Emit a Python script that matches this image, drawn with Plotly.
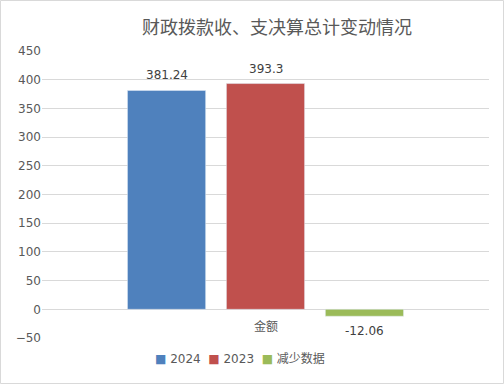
import plotly.graph_objects as go

categories = ["金额"]
series_names = ["2024", "2023", "减少数据"]
series_values = [[381.24], [393.3], [-12.06]]
series_colors = ["#4f81bd", "#c0504d", "#9bbb59"]
title = "财政拨款收、支决算总计变动情况"

W, H = 504, 384
ml, mr, mt, mb = 42, 15, 51, 46
pw, ph = W - ml - mr, H - mt - mb
bargap = 0.336
slot = pw * (1 - bargap) / len(series_names)

fig = go.Figure()
for name, vals, col in zip(series_names, series_values, series_colors):
    fig.add_trace(go.Bar(x=categories, y=vals, name=name, marker_color=col))

# data labels
for i, vals in enumerate(series_values):
    for c, v in zip(categories, vals):
        fig.add_annotation(x=c, y=v, xref="x", yref="y", text=f"{v:g}", showarrow=False,
                           xshift=(i - (len(series_names) - 1) / 2) * slot,
                           yshift=15 if v >= 0 else -15, yanchor="middle",
                           font=dict(family="DejaVu Sans", size=12, color="#404040"))

fig.update_layout(
    width=W, height=H,
    margin=dict(l=ml, r=mr, t=mt, b=mb),
    paper_bgcolor="white", plot_bgcolor="white",
    barmode="group", bargap=bargap, bargroupgap=0.21,
    title=dict(text=title, x=277 / W, xanchor="center", y=1 - 28 / H, yanchor="middle",
               font=dict(family="Noto Sans CJK SC", size=18, color="#595959")),
    showlegend=False,
    yaxis=dict(range=[-50, 450], dtick=50, showgrid=True, gridcolor="#d9d9d9", gridwidth=1,
               zeroline=False, showline=False, ticks="",
               tickfont=dict(family="DejaVu Sans", size=12, color="#595959")),
    xaxis=dict(showticklabels=False, showline=False, showgrid=False, zeroline=False),
)

# category label at the zero line
fig.add_annotation(x=categories[0], y=0, xref="x", yref="y", text=categories[0],
                   showarrow=False, yanchor="top", yshift=-6,
                   font=dict(family="Noto Sans CJK SC", size=12, color="#595959"))

# legend drawn as text with coloured squares
legend_text = "&nbsp;&nbsp;".join(
    f"<span style='color:{c}'>■</span>&nbsp;{n}" for n, c in zip(series_names, series_colors)
)
fig.add_annotation(x=(240 - ml) / pw, y=(H - mb - 358) / ph, xref="paper", yref="paper",
                   text=legend_text, showarrow=False, xanchor="center", yanchor="middle",
                   font=dict(family="DejaVu Sans, Noto Sans CJK SC", size=12, color="#595959"))

fig.add_shape(type="rect", xref="paper", yref="paper",
              x0=(0.5 - ml) / pw, x1=(W - 0.5 - ml) / pw,
              y0=-(mb - 0.5) / ph, y1=1 + (mt - 0.5) / ph,
              line=dict(color="#d9d9d9", width=1), layer="below")

fig.write_html("out.html")
